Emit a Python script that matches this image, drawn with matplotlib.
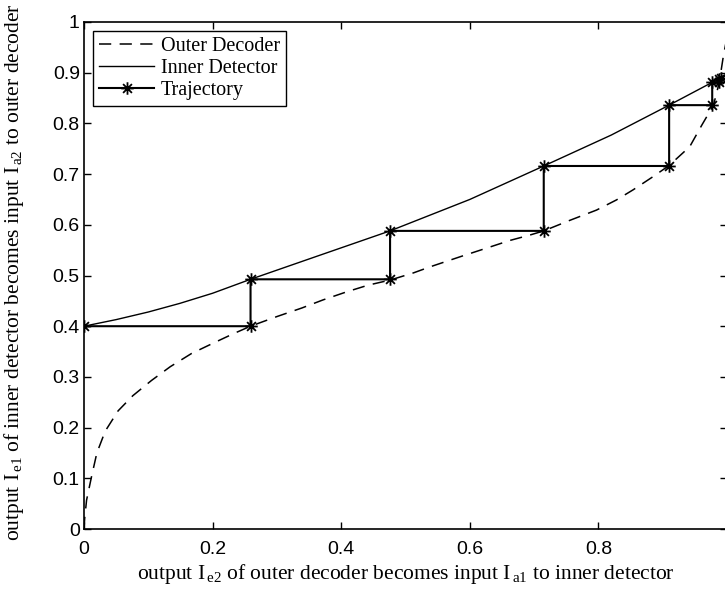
import matplotlib
matplotlib.use("Agg")
import matplotlib.pyplot as plt
from matplotlib.path import Path

# Outer decoder curve (dashed)
outer_x = [0.0, 0.001, 0.004, 0.012, 0.020, 0.033, 0.053, 0.076, 0.105, 0.134, 0.167, 0.20, 0.232, 0.259,
           0.30, 0.339, 0.372, 0.409, 0.442, 0.476, 0.512, 0.538, 0.585, 0.626, 0.662, 0.694,
           0.715, 0.756, 0.797, 0.828, 0.854, 0.885, 0.910, 0.942, 0.961, 0.979, 0.988, 0.994, 1.0]
outer_y = [0.0, 0.02, 0.057, 0.105, 0.150, 0.193, 0.233, 0.263, 0.293, 0.320, 0.346, 0.366, 0.385, 0.400,
           0.419, 0.436, 0.452, 0.468, 0.481, 0.491, 0.505, 0.517, 0.537, 0.554, 0.569, 0.580,
           0.588, 0.609, 0.629, 0.649, 0.669, 0.695, 0.717, 0.754, 0.797, 0.836, 0.881, 0.93, 0.97]

# Inner detector curve (solid)
inner_x = [0.0, 0.05, 0.10, 0.149, 0.20, 0.259, 0.36, 0.476, 0.60, 0.715, 0.82, 0.910, 0.977, 0.988, 1.0]
inner_y = [0.400, 0.413, 0.428, 0.445, 0.465, 0.4925, 0.537, 0.588, 0.650, 0.716, 0.777, 0.836, 0.881, 0.887, 0.895]

# Trajectory
traj_x = [0.0, 0.259, 0.259, 0.476, 0.476, 0.715, 0.715, 0.910, 0.910, 0.977, 0.977, 0.988, 0.988, 0.991]
traj_y = [0.400, 0.400, 0.4925, 0.4925, 0.588, 0.588, 0.716, 0.716, 0.836, 0.836, 0.881, 0.881, 0.887, 0.889]

xticks = [0, 0.2, 0.4, 0.6, 0.8, 1.0]
xtick_labels = ["0", "0.2", "0.4", "0.6", "0.8", ""]
yticks = [0, 0.1, 0.2, 0.3, 0.4, 0.5, 0.6, 0.7, 0.8, 0.9, 1.0]
ytick_labels = ["0", "0.1", "0.2", "0.3", "0.4", "0.5", "0.6", "0.7", "0.8", "0.9", "1"]

plt.rcParams['mathtext.fontset'] = 'custom'
plt.rcParams['mathtext.rm'] = 'Liberation Serif'
plt.rcParams['mathtext.it'] = 'Liberation Serif:italic'

# MATLAB-style asterisk marker (+ and x combined)
d = 0.7071
asterisk = Path([(-1, 0), (1, 0), (0, -1), (0, 1), (-d, -d), (d, d), (-d, d), (d, -d)],
                [Path.MOVETO, Path.LINETO] * 4)

fig = plt.figure(figsize=(7.25, 5.89), dpi=100)
ax = fig.add_axes([84/725, 1-529/589, 643/725, 507/589])

ax.plot(outer_x, outer_y, 'k--', lw=1.1, dashes=(8, 5.5), label='Outer Decoder')
ax.plot(inner_x, inner_y, 'k-', lw=1.0, label='Inner Detector')
ax.plot(traj_x, traj_y, 'k-', lw=1.5, marker=asterisk, markersize=9, markeredgewidth=1.3,
        markerfacecolor='none', markeredgecolor='k', label='Trajectory')

ax.set_xlim(0, 1)
ax.set_ylim(0, 1)
ax.set_xticks(xticks)
ax.set_xticklabels(xtick_labels, family='Liberation Sans', fontsize=14)
ax.set_yticks(yticks)
ax.set_yticklabels(ytick_labels, family='Liberation Sans', fontsize=14)
ax.tick_params(direction='in', top=True, right=True, length=5, width=1)
ax.tick_params(axis='x', pad=9)
ax.tick_params(axis='y', pad=3)
for s in ax.spines.values():
    s.set_linewidth(1.2)

ax.set_xlabel(r'output I$_{\,\mathrm{e2}}$ of outer decoder becomes input I$_{\,\mathrm{a1}}$ to inner detector',
              family='Liberation Serif', fontsize=15.5, va='top')
ax.set_ylabel(r'output I$_{\,\mathrm{e1}}$ of inner detector becomes input I$_{\,\mathrm{a2}}$ to outer decoder',
              family='Liberation Serif', fontsize=15.5)
ax.xaxis.set_label_coords(0.5, -0.066)
ax.yaxis.set_label_coords(-0.090, 0.507)

leg = ax.legend(loc='upper left', prop={'family': 'Liberation Serif', 'size': 14.5},
                frameon=True, fancybox=False, edgecolor='black', framealpha=1,
                handlelength=2.75, handletextpad=0.3, borderpad=0.3, labelspacing=0.15,
                borderaxespad=0.45)
leg.get_frame().set_linewidth(1.0)

fig.savefig('out.png', dpi=100)
